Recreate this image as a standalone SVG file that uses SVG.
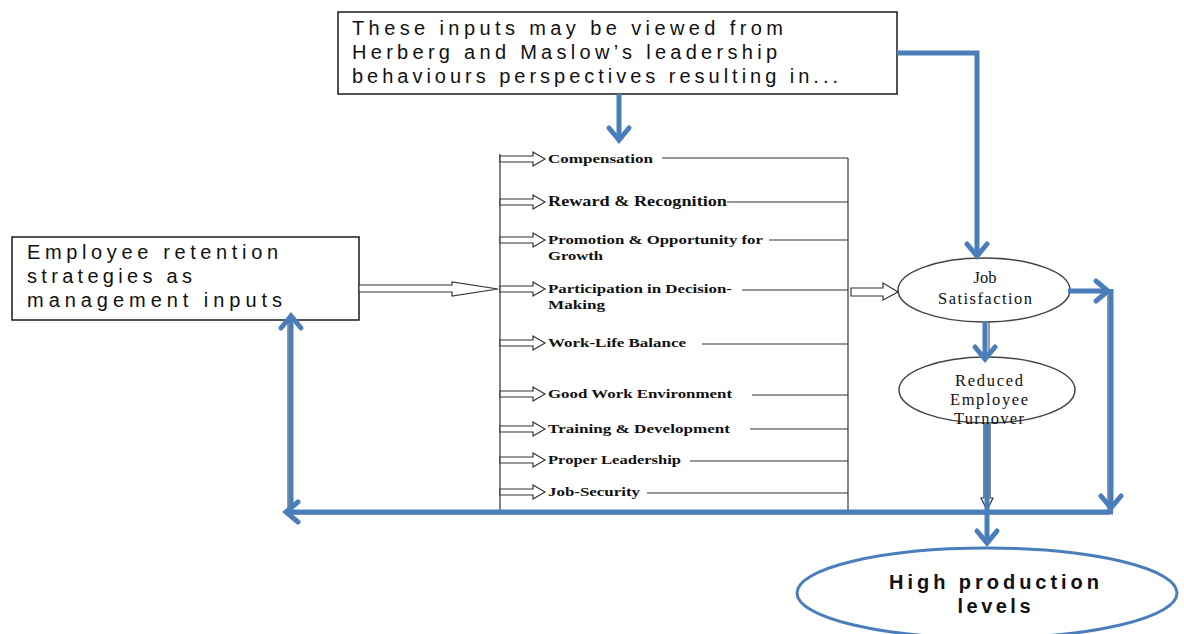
<svg xmlns="http://www.w3.org/2000/svg" width="1184" height="634" viewBox="0 0 1184 634">
  <style>
    .box { fill: #fff; stroke: #1a1a1a; stroke-width: 1.5; }
    .sans { font-family: "Liberation Sans", Arial, sans-serif; font-size: 20px; fill: #111; }
    .item { font-family: "Liberation Serif", "DejaVu Serif", serif; font-weight: bold; font-size: 13px; fill: #111; }
    .oval { fill: #fff; stroke: #444; stroke-width: 1.5; }
    .otext { font-family: "Liberation Serif", "DejaVu Serif", serif; font-size: 16.5px; fill: #111; text-anchor: middle; }
    .thin { stroke: #333; stroke-width: 1.2; fill: none; }
    .ghost { stroke: #555; stroke-width: 1.2; fill: none; }
    .hollow { fill: #fff; stroke: #333; stroke-width: 1.2; }
    .flow { stroke: #4a7ebb; stroke-width: 5; fill: none; }
    .big { font-family: "Liberation Sans", Arial, sans-serif; font-weight: bold; font-size: 20px; fill: #111; text-anchor: middle; }
  </style>
  <defs>
    <marker id="chev" viewBox="-18 -14 22 28" refX="0" refY="0" markerWidth="22" markerHeight="28" markerUnits="userSpaceOnUse" orient="auto">
      <path d="M-12,-10 L0,0 L-12,10" fill="none" stroke="#4a7ebb" stroke-width="5" stroke-linecap="round" stroke-linejoin="miter"/>
    </marker>
    <path id="ha" d="M0,-3 H33 V-7 L45,0 L33,7 V3 H0 Z"/>
  </defs>

  <rect width="1184" height="634" fill="#fff"/>

  <!-- faint underlying outlines beside the blue routes -->
  <g id="guides">
    <line class="ghost" x1="989" y1="320" x2="989" y2="358"/>
    <line class="ghost" x1="1108" y1="292" x2="1108" y2="512"/>
    <line class="ghost" x1="288" y1="318" x2="288" y2="514"/>
    <line class="ghost" x1="290" y1="514" x2="1110" y2="514"/>
    <path class="hollow" d="M984,424 V498 H981 L987,510 L993,498 H990 V424"/>
  </g>

  <!-- top note -->
  <g id="perspectives">
    <rect class="box" x="338" y="12" width="559" height="82"/>
    <text class="sans" x="352" y="35" textLength="431" lengthAdjust="spacing">These inputs may be viewed from</text>
    <text class="sans" x="352" y="59" textLength="425" lengthAdjust="spacing">Herberg and Maslow’s leadership</text>
    <text class="sans" x="352" y="83" textLength="486" lengthAdjust="spacing">behaviours  perspectives resulting in...</text>
  </g>

  <!-- management inputs -->
  <g id="inputs">
    <rect class="box" x="12" y="237" width="347" height="83"/>
    <text class="sans" x="27" y="259" textLength="251" lengthAdjust="spacing">Employee retention</text>
    <text class="sans" x="27" y="283" textLength="165" lengthAdjust="spacing">strategies  as</text>
    <text class="sans" x="27" y="307" textLength="255" lengthAdjust="spacing">management inputs</text>
  </g>

  <!-- retention strategy list -->
  <g id="strategies">
    <line class="thin" x1="500" y1="154" x2="500" y2="514"/>
    <line class="thin" x1="848" y1="158" x2="848" y2="514"/>

    <use href="#ha" class="hollow" x="500" y="159"/>
    <text class="item" x="548" y="163" textLength="105" lengthAdjust="spacingAndGlyphs">Compensation</text>
    <line class="thin" x1="662" y1="158" x2="848" y2="158"/>

    <use href="#ha" class="hollow" x="500" y="202"/>
    <text class="item" x="548" y="206" style="font-size:15px" textLength="179" lengthAdjust="spacingAndGlyphs">Reward &amp; Recognition</text>
    <line class="thin" x1="727" y1="202" x2="848" y2="202"/>

    <use href="#ha" class="hollow" x="500" y="240"/>
    <text class="item" x="548" y="244" textLength="215" lengthAdjust="spacingAndGlyphs">Promotion &amp; Opportunity for</text>
    <text class="item" x="548" y="260" textLength="55" lengthAdjust="spacingAndGlyphs">Growth</text>
    <line class="thin" x1="769" y1="240" x2="848" y2="240"/>

    <use href="#ha" class="hollow" x="500" y="289"/>
    <text class="item" x="548" y="293" textLength="184" lengthAdjust="spacingAndGlyphs">Participation in Decision-</text>
    <text class="item" x="548" y="309" textLength="57" lengthAdjust="spacingAndGlyphs">Making</text>
    <line class="thin" x1="742" y1="290" x2="848" y2="290"/>

    <use href="#ha" class="hollow" x="500" y="343"/>
    <text class="item" x="548" y="347" textLength="138" lengthAdjust="spacingAndGlyphs">Work-Life Balance</text>
    <line class="thin" x1="702" y1="344" x2="848" y2="344"/>

    <use href="#ha" class="hollow" x="500" y="394"/>
    <text class="item" x="548" y="398" textLength="184" lengthAdjust="spacingAndGlyphs">Good Work Environment</text>
    <line class="thin" x1="752" y1="395" x2="848" y2="395"/>

    <use href="#ha" class="hollow" x="500" y="429"/>
    <text class="item" x="548" y="433" textLength="182" lengthAdjust="spacingAndGlyphs">Training &amp; Development</text>
    <line class="thin" x1="750" y1="429" x2="848" y2="429"/>

    <use href="#ha" class="hollow" x="500" y="460"/>
    <text class="item" x="548" y="464" textLength="133" lengthAdjust="spacingAndGlyphs">Proper Leadership</text>
    <line class="thin" x1="690" y1="461" x2="848" y2="461"/>

    <use href="#ha" class="hollow" x="500" y="492"/>
    <text class="item" x="548" y="496" textLength="92" lengthAdjust="spacingAndGlyphs">Job-Security</text>
    <line class="thin" x1="647" y1="493" x2="848" y2="493"/>
  </g>

  <!-- outcome ovals -->
  <g id="job-satisfaction">
    <ellipse class="oval" cx="984" cy="290" rx="86" ry="32"/>
    <text class="otext" x="985" y="283">Job</text>
    <text class="otext" x="985" y="304" textLength="94" lengthAdjust="spacing">Satisfaction</text>
  </g>
  <g id="reduced-turnover">
    <ellipse class="oval" cx="987" cy="390" rx="88" ry="33"/>
    <text class="otext" x="989" y="386" textLength="68" lengthAdjust="spacing">Reduced</text>
    <text class="otext" x="989" y="405" textLength="78" lengthAdjust="spacing">Employee</text>
    <text class="otext" x="989" y="424" textLength="70" lengthAdjust="spacing">Turnover</text>
  </g>
  <g id="high-production">
    <ellipse cx="987" cy="593" rx="190" ry="45" fill="#fff" stroke="#4a7ebb" stroke-width="3"/>
    <text class="big" x="994" y="589" textLength="210" lengthAdjust="spacing">High production</text>
    <text class="big" x="994" y="613" textLength="73" lengthAdjust="spacing">levels</text>
  </g>

  <!-- connectors -->
  <g id="connectors">
    <!-- hollow block arrows -->
    <path class="hollow" d="M359,285 H452 V282 L498,289 L452,296 V292 H359 Z"/>
    <path class="hollow" d="M851,288 H883 V283 L898,292 L883,300 V296 H851 Z"/>

    <!-- blue routes -->
    <path class="flow" d="M619,94 V140" marker-end="url(#chev)"/>
    <path class="flow" d="M897,53 H977 V256" marker-end="url(#chev)"/>
    <path class="flow" d="M985,321 V359" marker-end="url(#chev)"/>
    <path class="flow" d="M1068,291 H1108" marker-end="url(#chev)"/>
    <path class="flow" d="M1111,289 V508" marker-end="url(#chev)"/>
    <path class="flow" d="M1113,512 H286" marker-end="url(#chev)"/>
    <path class="flow" d="M291,512 V316" marker-end="url(#chev)"/>
    <path class="flow" d="M987,424 V543" marker-end="url(#chev)"/>
  </g>
</svg>
